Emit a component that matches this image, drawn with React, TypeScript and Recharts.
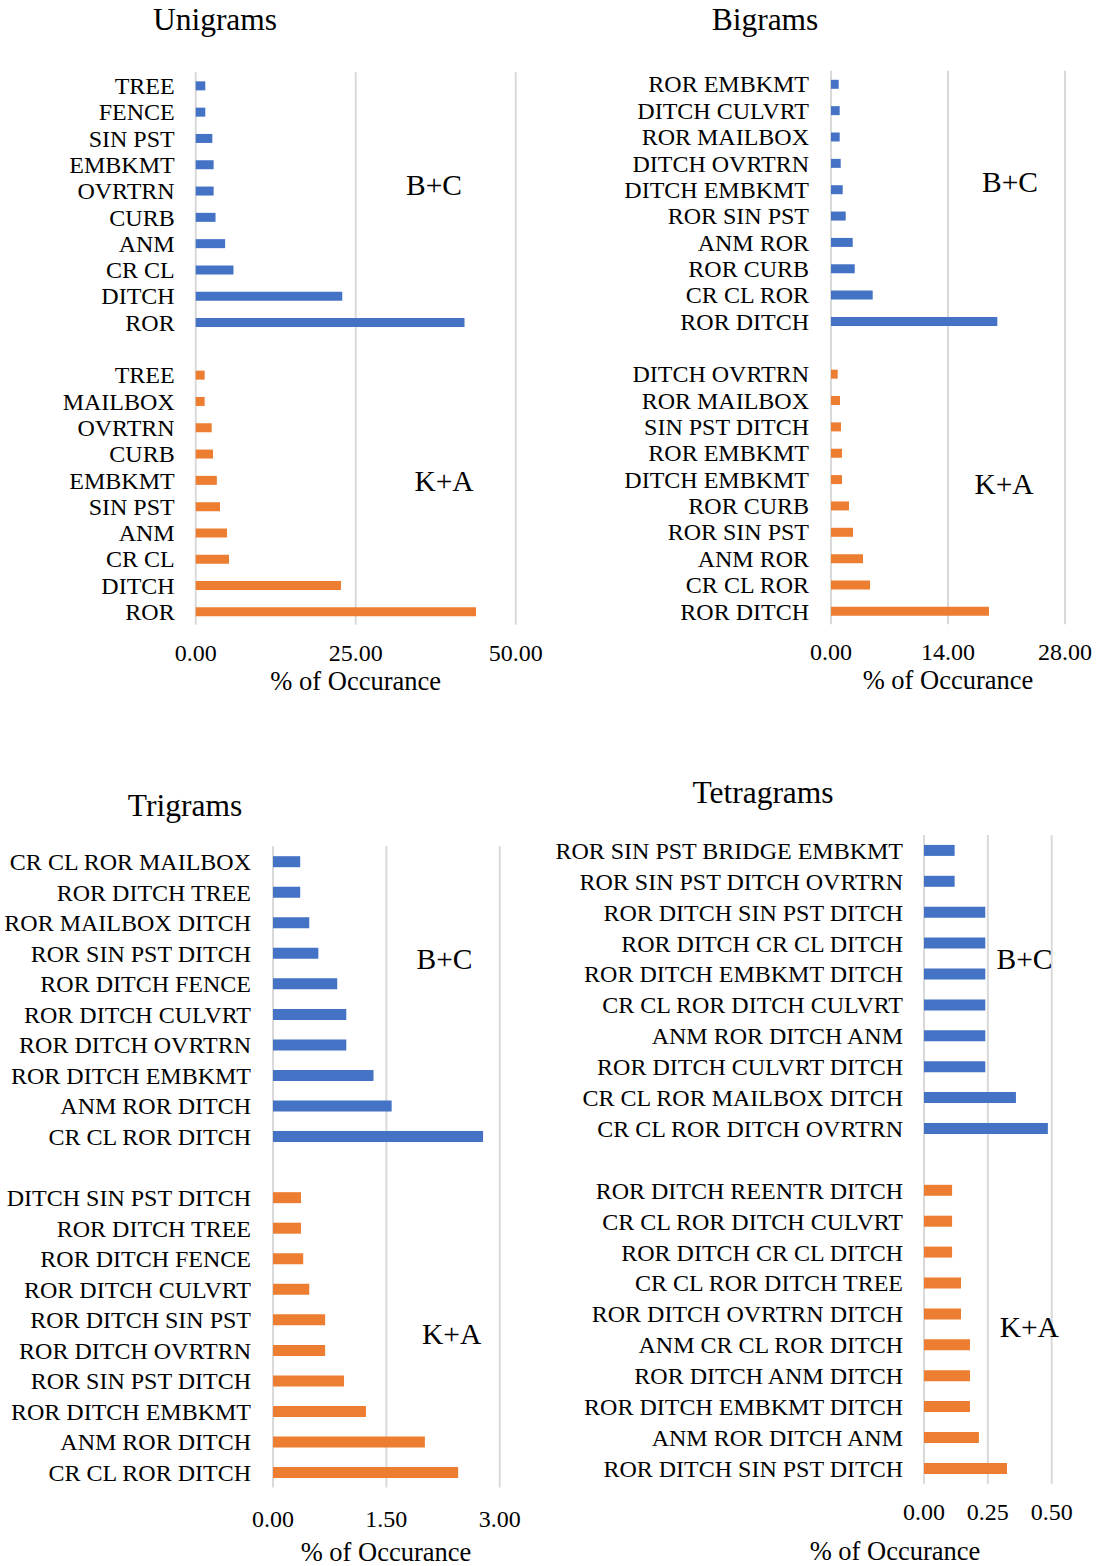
import { BarChart, Bar, XAxis, YAxis, CartesianGrid } from "recharts";

const FONT = '"Liberation Serif", "Times New Roman", serif';
const BLUE = "#4472C4";
const ORANGE = "#ED7D31";

// Unigrams
const uniBcLabels = ["TREE", "FENCE", "SIN PST", "EMBKMT", "OVRTRN", "CURB", "ANM", "CR CL", "DITCH", "ROR"];
const uniBcValues = [1.5, 1.5, 2.6, 2.8, 2.8, 3.1, 4.6, 5.9, 22.9, 42.0];
const uniKaLabels = ["TREE", "MAILBOX", "OVRTRN", "CURB", "EMBKMT", "SIN PST", "ANM", "CR CL", "DITCH", "ROR"];
const uniKaValues = [1.4, 1.4, 2.5, 2.7, 3.3, 3.8, 4.9, 5.2, 22.7, 43.8];
const uniTicks = [0, 25, 50];

// Bigrams
const biBcLabels = ["ROR EMBKMT", "DITCH CULVRT", "ROR MAILBOX", "DITCH OVRTRN", "DITCH EMBKMT", "ROR SIN PST", "ANM ROR", "ROR CURB", "CR CL ROR", "ROR DITCH"];
const biBcValues = [0.92, 1.04, 1.04, 1.16, 1.4, 1.76, 2.6, 2.84, 4.99, 19.9];
const biKaLabels = ["DITCH OVRTRN", "ROR MAILBOX", "SIN PST DITCH", "ROR EMBKMT", "DITCH EMBKMT", "ROR CURB", "ROR SIN PST", "ANM ROR", "CR CL ROR", "ROR DITCH"];
const biKaValues = [0.8, 1.08, 1.2, 1.32, 1.32, 2.15, 2.63, 3.83, 4.67, 18.9];
const biTicks = [0, 14, 28];

// Trigrams
const triBcLabels = ["CR CL ROR MAILBOX", "ROR DITCH TREE", "ROR MAILBOX DITCH", "ROR SIN PST DITCH", "ROR DITCH FENCE", "ROR DITCH CULVRT", "ROR DITCH OVRTRN", "ROR DITCH EMBKMT", "ANM ROR DITCH", "CR CL ROR DITCH"];
const triBcValues = [0.36, 0.36, 0.48, 0.6, 0.85, 0.97, 0.97, 1.33, 1.57, 2.78];
const triKaLabels = ["DITCH SIN PST DITCH", "ROR DITCH TREE", "ROR DITCH FENCE", "ROR DITCH CULVRT", "ROR DITCH SIN PST", "ROR DITCH OVRTRN", "ROR SIN PST DITCH", "ROR DITCH EMBKMT", "ANM ROR DITCH", "CR CL ROR DITCH"];
const triKaValues = [0.37, 0.37, 0.4, 0.48, 0.69, 0.69, 0.94, 1.23, 2.01, 2.45];
const triTicks = [0, 1.5, 3];

// Tetragrams
const tetraBcLabels = ["ROR SIN PST BRIDGE EMBKMT", "ROR SIN PST DITCH OVRTRN", "ROR DITCH SIN PST DITCH", "ROR DITCH CR CL DITCH", "ROR DITCH EMBKMT DITCH", "CR CL ROR DITCH CULVRT", "ANM ROR DITCH ANM", "ROR DITCH CULVRT DITCH", "CR CL ROR MAILBOX DITCH", "CR CL ROR DITCH OVRTRN"];
const tetraBcValues = [0.12, 0.12, 0.24, 0.24, 0.24, 0.24, 0.24, 0.24, 0.36, 0.485];
const tetraKaLabels = ["ROR DITCH REENTR DITCH", "CR CL ROR DITCH CULVRT", "ROR DITCH CR CL DITCH", "CR CL ROR DITCH TREE", "ROR DITCH OVRTRN DITCH", "ANM CR CL ROR DITCH", "ROR DITCH ANM DITCH", "ROR DITCH EMBKMT DITCH", "ANM ROR DITCH ANM", "ROR DITCH SIN PST DITCH"];
const tetraKaValues = [0.11, 0.11, 0.11, 0.145, 0.145, 0.18, 0.18, 0.18, 0.215, 0.325];
const tetraTicks = [0, 0.25, 0.5];

type Row = { id: string; label: string; bc: number | null; ka: number | null };

const buildRows = (
  bcLabels: string[],
  bcValues: number[],
  kaLabels: string[],
  kaValues: number[]
): Row[] => [
  ...bcLabels.map((label, i) => ({ id: `bc${i}`, label, bc: bcValues[i], ka: null })),
  { id: "gap", label: "", bc: null, ka: null },
  ...kaLabels.map((label, i) => ({ id: `ka${i}`, label, bc: null, ka: kaValues[i] })),
];

type PanelProps = {
  left: number;
  top: number;
  width: number;
  height: number;
  margin: { top: number; right: number; bottom: number; left: number };
  axisWidth: number;
  ticks: number[];
  barSize: number;
  tickGap: number;
  labelGap: number;
  rows: Row[];
};

const Panel = ({
  left,
  top,
  width,
  height,
  margin,
  axisWidth,
  ticks,
  barSize,
  tickGap,
  labelGap,
  rows,
}: PanelProps) => {
  const names: Record<string, string> = {};
  rows.forEach((r) => {
    names[r.id] = r.label;
  });

  return (
    <div style={{ position: "absolute", left, top }}>
      <BarChart width={width} height={height} data={rows} layout="vertical" margin={margin}>
        <CartesianGrid horizontal={false} stroke="#d9d9d9" strokeWidth={2} />
        <XAxis
          type="number"
          domain={[ticks[0], ticks[ticks.length - 1]]}
          ticks={ticks}
          interval={0}
          height={50}
          axisLine={false}
          tickLine={false}
          tickSize={0}
          tickMargin={tickGap}
          tickFormatter={(v: number) => v.toFixed(2)}
          tick={{ fontFamily: FONT, fontSize: 24, fill: "#000" }}
        />
        <YAxis
          type="category"
          dataKey="id"
          width={axisWidth}
          interval={0}
          axisLine={false}
          tickLine={false}
          tickSize={0}
          tickMargin={labelGap}
          tickFormatter={(id: string) => names[id]}
          tick={{ fontFamily: FONT, fontSize: 24, fill: "#000" }}
        />
        <Bar dataKey="bc" stackId="g" fill={BLUE} barSize={barSize} isAnimationActive={false} />
        <Bar dataKey="ka" stackId="g" fill={ORANGE} barSize={barSize} isAnimationActive={false} />
      </BarChart>
    </div>
  );
};

const Label = ({ x, y, size, text }: { x: number; y: number; size: number; text: string }) => (
  <div
    style={{
      position: "absolute",
      left: x,
      top: y,
      transform: "translate(-50%, -50%)",
      fontFamily: FONT,
      fontSize: size,
      lineHeight: 1,
      whiteSpace: "nowrap",
      color: "#000",
    }}
  >
    {text}
  </div>
);

const App = () => {
  return (
    <div
      style={{
        position: "absolute",
        left: 0,
        top: 0,
        width: 1097,
        height: 1566,
        background: "#fff",
        overflow: "hidden",
      }}
    >
      <Panel
        left={0}
        top={0}
        width={560}
        height={700}
        margin={{ top: 72.35, right: 44.3, bottom: 25.35, left: 0 }}
        axisWidth={195.7}
        ticks={uniTicks}
        barSize={9}
        tickGap={19}
        labelGap={21}
        rows={buildRows(uniBcLabels, uniBcValues, uniKaLabels, uniKaValues)}
      />
      <Panel
        left={560}
        top={0}
        width={537}
        height={700}
        margin={{ top: 70.8, right: 32, bottom: 25.8, left: 0 }}
        axisWidth={271}
        ticks={biTicks}
        barSize={9}
        tickGap={18.5}
        labelGap={22}
        rows={buildRows(biBcLabels, biBcValues, biKaLabels, biKaValues)}
      />
      <Panel
        left={0}
        top={760}
        width={545}
        height={800}
        margin={{ top: 86.2, right: 45.3, bottom: 22.4, left: 0 }}
        axisWidth={273}
        ticks={triTicks}
        barSize={11}
        tickGap={22.5}
        labelGap={22}
        rows={buildRows(triBcLabels, triBcValues, triKaLabels, triKaValues)}
      />
      <Panel
        left={520}
        top={760}
        width={577}
        height={800}
        margin={{ top: 74.9, right: 45.3, bottom: 26.2, left: 0 }}
        axisWidth={404}
        ticks={tetraTicks}
        barSize={11}
        tickGap={19.5}
        labelGap={21}
        rows={buildRows(tetraBcLabels, tetraBcValues, tetraKaLabels, tetraKaValues)}
      />

      <Label x={215} y={20} size={31.5} text="Unigrams" />
      <Label x={765} y={20} size={31.5} text="Bigrams" />
      <Label x={185} y={806} size={31.5} text="Trigrams" />
      <Label x={763} y={793} size={31.5} text="Tetragrams" />

      <Label x={434} y={186} size={29.5} text="B+C" />
      <Label x={444} y={482} size={29.5} text="K+A" />
      <Label x={1010} y={183} size={29.5} text="B+C" />
      <Label x={1004} y={485} size={29.5} text="K+A" />
      <Label x={444.5} y={960} size={29.5} text="B+C" />
      <Label x={451.7} y={1335} size={29.5} text="K+A" />
      <Label x={1024.5} y={959.5} size={29.5} text="B+C" />
      <Label x={1029.3} y={1328} size={29.5} text="K+A" />

      <Label x={355.7} y={681} size={26.5} text="% of Occurance" />
      <Label x={948} y={680} size={26.5} text="% of Occurance" />
      <Label x={386} y={1552} size={26.5} text="% of Occurance" />
      <Label x={895} y={1551} size={26.5} text="% of Occurance" />
    </div>
  );
};

export default App;
